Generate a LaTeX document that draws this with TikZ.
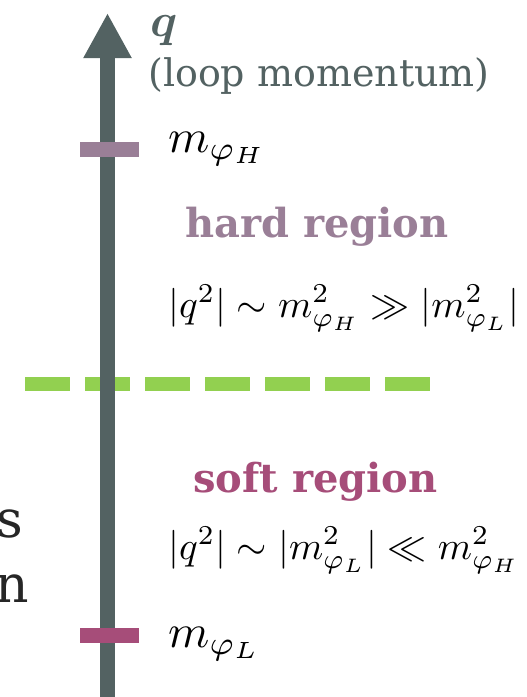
\RequirePackage{fix-cm}
\documentclass[tikz,border=0pt]{standalone}
\usepackage{amsmath,amssymb}
\usepackage{graphicx}
\usepackage{fontspec}
\newfontfamily\loopserif{DejaVu Serif}
\usepackage{xcolor}
\definecolor{qaxis}{HTML}{536262}
\definecolor{qhard}{HTML}{9A7F97}
\definecolor{qsoft}{HTML}{A64D79}
\definecolor{qcut}{HTML}{92D050}
\newcommand{\qlabel}[1]{\scalebox{4.7}{$#1$}}
\newcommand{\qrelation}[1]{\scalebox{3.9}{$#1$}}
\usepackage{tikz}
\usetikzlibrary{arrows.meta,positioning}
\tikzset{
  qaxisline/.style={line width=15pt,color=qaxis,-{Triangle[width=45pt,length=45pt]}},
  qcutline/.style={line width=14pt,color=qcut,dash pattern=on 45pt off 15pt},
  qtick/.style={minimum width=59pt,minimum height=15pt,inner sep=0pt},
  qtitle/.style={font=\loopserif\bfseries\fontsize{40}{48}\selectfont,anchor=base west,inner sep=0pt},
  qmath/.style={anchor=base west,inner sep=0pt},
  qfrag/.style={font=\loopserif\fontsize{52}{60}\selectfont,anchor=base east,inner sep=0pt,text=black!85},
}

\begin{document}
\begin{tikzpicture}[x=1pt,y=-1pt]
\useasboundingbox (0,0) rectangle (527,697);
\coordinate (cutL) at (25,384);
\coordinate (cutR) at (430,384);
\draw[qcutline] (cutL) -- (cutR);
\coordinate (axisbot) at (107.5,697);
\coordinate (axistop) at (107.5,13);
\draw[qaxisline] (axisbot) -- (axistop);
\node[qtick,fill=qhard] (tickH) at (109.5,149.5) {};
\node[qtick,fill=qsoft] (tickL) at (109.5,635) {};
\node[qmath,text=qaxis] (qname) at (150,36) {\qlabel{\boldsymbol{q}}};
\node[anchor=base west,inner sep=0pt,font=\loopserif\fontsize{38}{44}\selectfont,text=qaxis] (qdesc) at (148,86) {(loop momentum)};
\node[qmath] (mH) at (168,152) {\qlabel{m_{\varphi_H}}};
\node[qtitle,text=qhard] (hard) at (185,237) {hard region};
\node[qmath] (hardrel) at (168,317) {\qrelation{|q^2|\sim m^2_{\varphi_H}\gg|m^2_{\varphi_L}|}};
\node[qtitle,text=qsoft] (soft) at (193,492) {soft region};
\node[qmath] (softrel) at (168,559) {\qrelation{|q^2|\sim |m^2_{\varphi_L}|\ll m^2_{\varphi_H}}};
\node[qmath] (mL) at (168,647) {\qlabel{m_{\varphi_L}}};
\node[qfrag] (fragS) at (23,537) {s};
\node[qfrag] (fragN) at (29,602) {n};
\end{tikzpicture}
\end{document}
